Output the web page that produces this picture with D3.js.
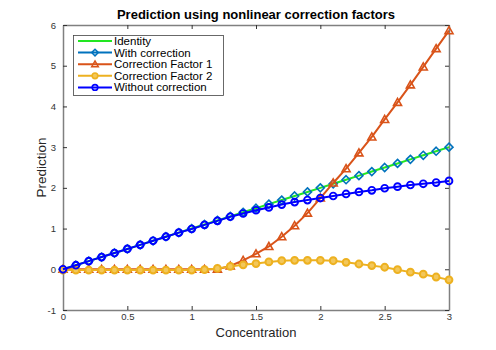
<!DOCTYPE html>
<html><head><meta charset="utf-8">
<script src="https://cdn.jsdelivr.net/npm/d3@7"></script>
<style>body{margin:0;background:#fff}svg{display:block}text{font-family:"Liberation Sans",Arial,sans-serif}</style>
</head><body><svg id="c" width="496" height="350"></svg>
<script>
const xs = [0,0.1,0.2,0.3,0.4,0.5,0.6,0.7,0.8,0.9,1.0,1.1,1.2,1.3,1.4,1.5,1.6,1.7,1.8,1.9,2.0,2.1,2.2,2.3,2.4,2.5,2.6,2.7,2.8,2.9,3.0];
const identity = [0,0.1,0.2,0.3,0.4,0.5,0.6,0.7,0.8,0.9,1.0,1.1,1.2,1.3,1.4,1.5,1.6,1.7,1.8,1.9,2.0,2.1,2.2,2.3,2.4,2.5,2.6,2.7,2.8,2.9,3.0];
const withCorrection = [0,0.1,0.2,0.3,0.4,0.5,0.6,0.7,0.8,0.9,1.0,1.1,1.2,1.3,1.4,1.5,1.6,1.7,1.8,1.9,2.0,2.1,2.2,2.3,2.4,2.5,2.6,2.7,2.8,2.9,3.0];
const factor1 = [0,0,0,0,0,0,0,0,0,0,0,0,0,0.08,0.22,0.38,0.56,0.8,1.07,1.38,1.75,2.12,2.47,2.86,3.25,3.68,4.1,4.53,4.97,5.42,5.86];
const factor2 = [-0.02,-0.02,-0.02,-0.02,-0.02,-0.02,-0.02,-0.02,-0.02,-0.02,-0.02,-0.01,0.02,0.07,0.11,0.14,0.18,0.21,0.22,0.22,0.22,0.21,0.17,0.13,0.09,0.05,-0.01,-0.07,-0.12,-0.19,-0.26];
const withoutCorrection = [0,0.1,0.2,0.3,0.4,0.5,0.6,0.7,0.8,0.9,0.99,1.09,1.19,1.29,1.37,1.45,1.52,1.59,1.65,1.7,1.75,1.8,1.85,1.9,1.94,1.99,2.03,2.07,2.1,2.13,2.17];
const xTicks = [0,0.5,1,1.5,2,2.5,3];
const xTickLabels = ["0","0.5","1","1.5","2","2.5","3"];
const yTicks = [-1,0,1,2,3,4,5,6];
const yTickLabels = ["-1","0","1","2","3","4","5","6"];
const seriesNames = ["Identity","With correction","Correction Factor 1","Correction Factor 2","Without correction"];

const svg = d3.select("#c");
const L=63, R=449, T=25, B=310;
const x = d3.scaleLinear().domain([0,3]).range([L,R]);
const y = d3.scaleLinear().domain([-1,6]).range([B,T]);
const axisCol = "#808080", tickTextCol = "#333";

const gx = svg.append("g").attr("transform",`translate(0,${B})`)
  .call(d3.axisBottom(x).tickValues(xTicks).tickFormat((d,i)=>xTickLabels[i]).tickSizeInner(-4).tickSizeOuter(0).tickPadding(3));
const gxt = svg.append("g").attr("transform",`translate(0,${T})`)
  .call(d3.axisTop(x).tickValues(xTicks).tickFormat("").tickSizeInner(-4).tickSizeOuter(0));
const gy = svg.append("g").attr("transform",`translate(${L},0)`)
  .call(d3.axisLeft(y).tickValues(yTicks).tickFormat((d,i)=>yTickLabels[i]).tickSizeInner(-4).tickSizeOuter(0).tickPadding(7));
const gyr = svg.append("g").attr("transform",`translate(${R},0)`)
  .call(d3.axisRight(y).tickValues(yTicks).tickFormat("").tickSizeInner(-4).tickSizeOuter(0));
[gx,gxt,gy,gyr].forEach(g=>{
  g.select(".domain").attr("stroke",axisCol).attr("stroke-width",1.5);
  g.selectAll(".tick line").attr("stroke","#333").attr("stroke-width",1);
  g.selectAll(".tick text").attr("fill",tickTextCol).style("font-size","9.5px").style("font-family","Liberation Sans, Arial, sans-serif");
});

const line = arr => d3.line().x((d,i)=>x(xs[i])).y(d=>y(d))(arr);
const plot = svg.append("g");

function markers(arr, type, color, sw, fill){
  const g = plot.append("g");
  arr.forEach((v,i)=>{
    const cx=x(xs[i]), cy=y(v);
    if(type==="circle"){
      g.append("circle").attr("cx",cx).attr("cy",cy).attr("r",3.4).attr("fill",fill||"none").attr("stroke",color).attr("stroke-width",sw);
    } else if(type==="diamond"){
      const s=4;
      g.append("path").attr("d",`M${cx},${cy-s}L${cx+s},${cy}L${cx},${cy+s}L${cx-s},${cy}Z`).attr("fill","none").attr("stroke",color).attr("stroke-width",sw);
    } else if(type==="tri"){
      const s=4;
      g.append("path").attr("d",`M${cx},${cy-s}L${cx+s},${cy+s*0.75}L${cx-s},${cy+s*0.75}Z`).attr("fill","none").attr("stroke",color).attr("stroke-width",sw);
    }
  });
}
const cols = ["#22e622","#0072BD","#D95319","#EDB120","#0000FF"];

plot.append("path").attr("d",line(identity)).attr("fill","none").attr("stroke",cols[0]).attr("stroke-width",2);
markers(withCorrection,"diamond",cols[1],1.6);
plot.append("path").attr("d",line(factor1)).attr("fill","none").attr("stroke",cols[2]).attr("stroke-width",2);
markers(factor1,"tri",cols[2],1.6);
plot.append("path").attr("d",line(factor2)).attr("fill","none").attr("stroke",cols[3]).attr("stroke-width",2);
markers(factor2,"circle",cols[3],2,"#f3c75a");
plot.append("path").attr("d",line(withoutCorrection)).attr("fill","none").attr("stroke",cols[4]).attr("stroke-width",2);
markers(withoutCorrection,"circle",cols[4],1.9);

svg.append("text").attr("x",(L+R)/2).attr("y",19).attr("text-anchor","middle")
  .style("font-weight","bold").style("font-size","13px").attr("fill","#000").text("Prediction using nonlinear correction factors");
svg.append("text").attr("x",(L+R)/2).attr("y",337).attr("text-anchor","middle")
  .style("font-size","13px").attr("fill","#262626").text("Concentration");
svg.append("text").attr("transform",`translate(46,${(T+B)/2}) rotate(-90)`).attr("text-anchor","middle")
  .style("font-size","13.5px").attr("fill","#262626").text("Prediction");

const lg = svg.append("g");
lg.append("rect").attr("x",73.5).attr("y",35.5).attr("width",150).attr("height",60).attr("fill","#fff").attr("stroke","#444").attr("stroke-width",0.8);
const types=[null,"diamond","tri","circle","circle"];
seriesNames.forEach((n,i)=>{
  const yy = 41 + i*11.6;
  lg.append("line").attr("x1",78).attr("x2",112).attr("y1",yy).attr("y2",yy).attr("stroke",cols[i]).attr("stroke-width",2);
  const cx=95, cy=yy, s=3.3;
  if(types[i]==="diamond") lg.append("path").attr("d",`M${cx},${cy-s}L${cx+s},${cy}L${cx},${cy+s}L${cx-s},${cy}Z`).attr("fill","none").attr("stroke",cols[i]).attr("stroke-width",1.5);
  if(types[i]==="tri") lg.append("path").attr("d",`M${cx},${cy-s}L${cx+s},${cy+s*0.75}L${cx-s},${cy+s*0.75}Z`).attr("fill","none").attr("stroke",cols[i]).attr("stroke-width",1.5);
  if(types[i]==="circle") lg.append("circle").attr("cx",cx).attr("cy",cy).attr("r",2.8).attr("fill",i===3?"#f3c75a":"none").attr("stroke",cols[i]).attr("stroke-width",1.6);
  lg.append("text").attr("x",114).attr("y",yy+4).style("font-size","11.5px").attr("fill","#000").text(n);
});
</script></body></html>
